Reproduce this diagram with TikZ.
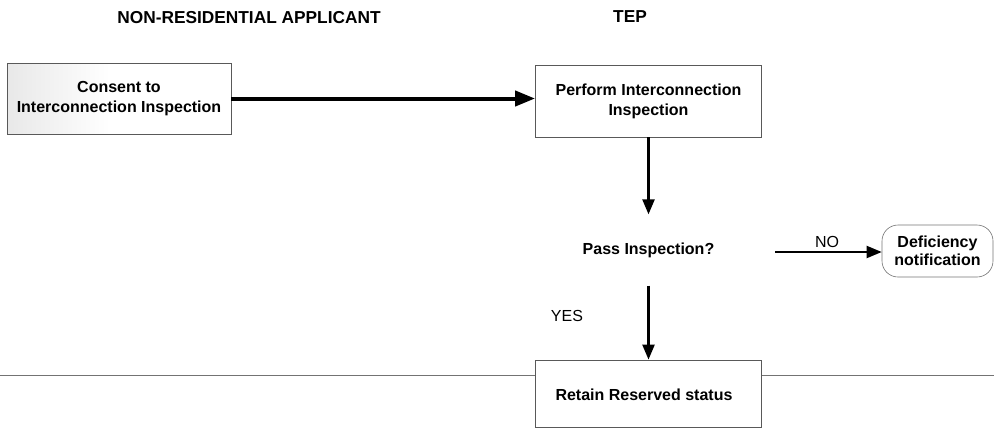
\documentclass[tikz,border=0pt]{standalone}
\usepackage{fontspec}
\setmainfont{Liberation Sans}
\usetikzlibrary{arrows.meta,shapes.misc}

% soft grey wash fading out towards the right of the applicant box
\pgfdeclarehorizontalshading{washleft}{100bp}{color(0bp)=(black!18); color(25bp)=(black!9); color(48bp)=(white); color(100bp)=(white)}

\tikzset{
  lanetitle/.style={font=\bfseries\fontsize{17.3}{20}\selectfont, inner sep=0pt},
  procbox/.style={draw=black!65, line width=0.8pt, fill=white, align=center,
    font=\bfseries\fontsize{16}{20}\selectfont, inner sep=0pt},
  plaintext/.style={font=\fontsize{16}{20}\selectfont, inner sep=0pt},
  boldtext/.style={font=\bfseries\fontsize{16}{20}\selectfont, inner sep=0pt, align=center},
  endbox/.style={draw=black!55, line width=0.6pt, rounded corners=16pt, align=center,
    font=\bfseries\fontsize{16}{18.5}\selectfont, inner sep=0pt},
  flow/.style={line width=2.4pt, -{Triangle[length=15pt,width=12pt]}},
  mainflow/.style={line width=4pt, -{Triangle[length=20pt,width=15pt]}},
  laneline/.style={draw=black!55, line width=0.9pt}
}

\begin{document}
\begin{tikzpicture}[x=1pt,y=-1pt]
  \useasboundingbox (0,0) rectangle (994,432);

  % lane divider
  \coordinate (divL) at (0,375);
  \coordinate (divR) at (994,375);
  \draw[laneline] (divL) -- (divR);

  % lane titles
  \node[lanetitle] (applicant) at (249,18) {NON-RESIDENTIAL APPLICANT};
  \node[lanetitle] (tep) at (630,17) {TEP};

  % applicant step
  \node[procbox, minimum width=224pt, minimum height=71pt, shading=washleft,
        shading angle=0] (consent) at (119,98.5) {Consent to\\Interconnection Inspection};

  % TEP steps
  \node[procbox, minimum width=226pt, minimum height=72pt] (perform) at (648.5,101)
        {Perform Interconnection\\Inspection};
  \node[boldtext] (pass) at (648.5,250) {Pass Inspection?};
  \node[procbox, minimum width=226pt, minimum height=67pt] (retain) at (648.5,393.5) {};
  \node[boldtext] (retaintxt) at (644,395) {Retain Reserved status};
  \node[endbox, minimum width=111pt, minimum height=52pt] (deficiency) at (937.5,251)
        {Deficiency\\notification};

  % branch labels
  \node[plaintext] (yes) at (567,316) {YES};
  \node[plaintext] (no) at (827,242) {NO};

  % connectors
  \draw[mainflow] (consent.east) -- (consent.east -| perform.west);
  \draw[flow, shorten >=28pt] (perform.south) -- (pass.north);
  \draw[flow, shorten <=28pt] (pass.south) -- (retain.north);
  \coordinate (nostart) at (775,252);
  \draw[flow, line width=2pt] (nostart) -- (nostart -| deficiency.west);
\end{tikzpicture}
\end{document}
